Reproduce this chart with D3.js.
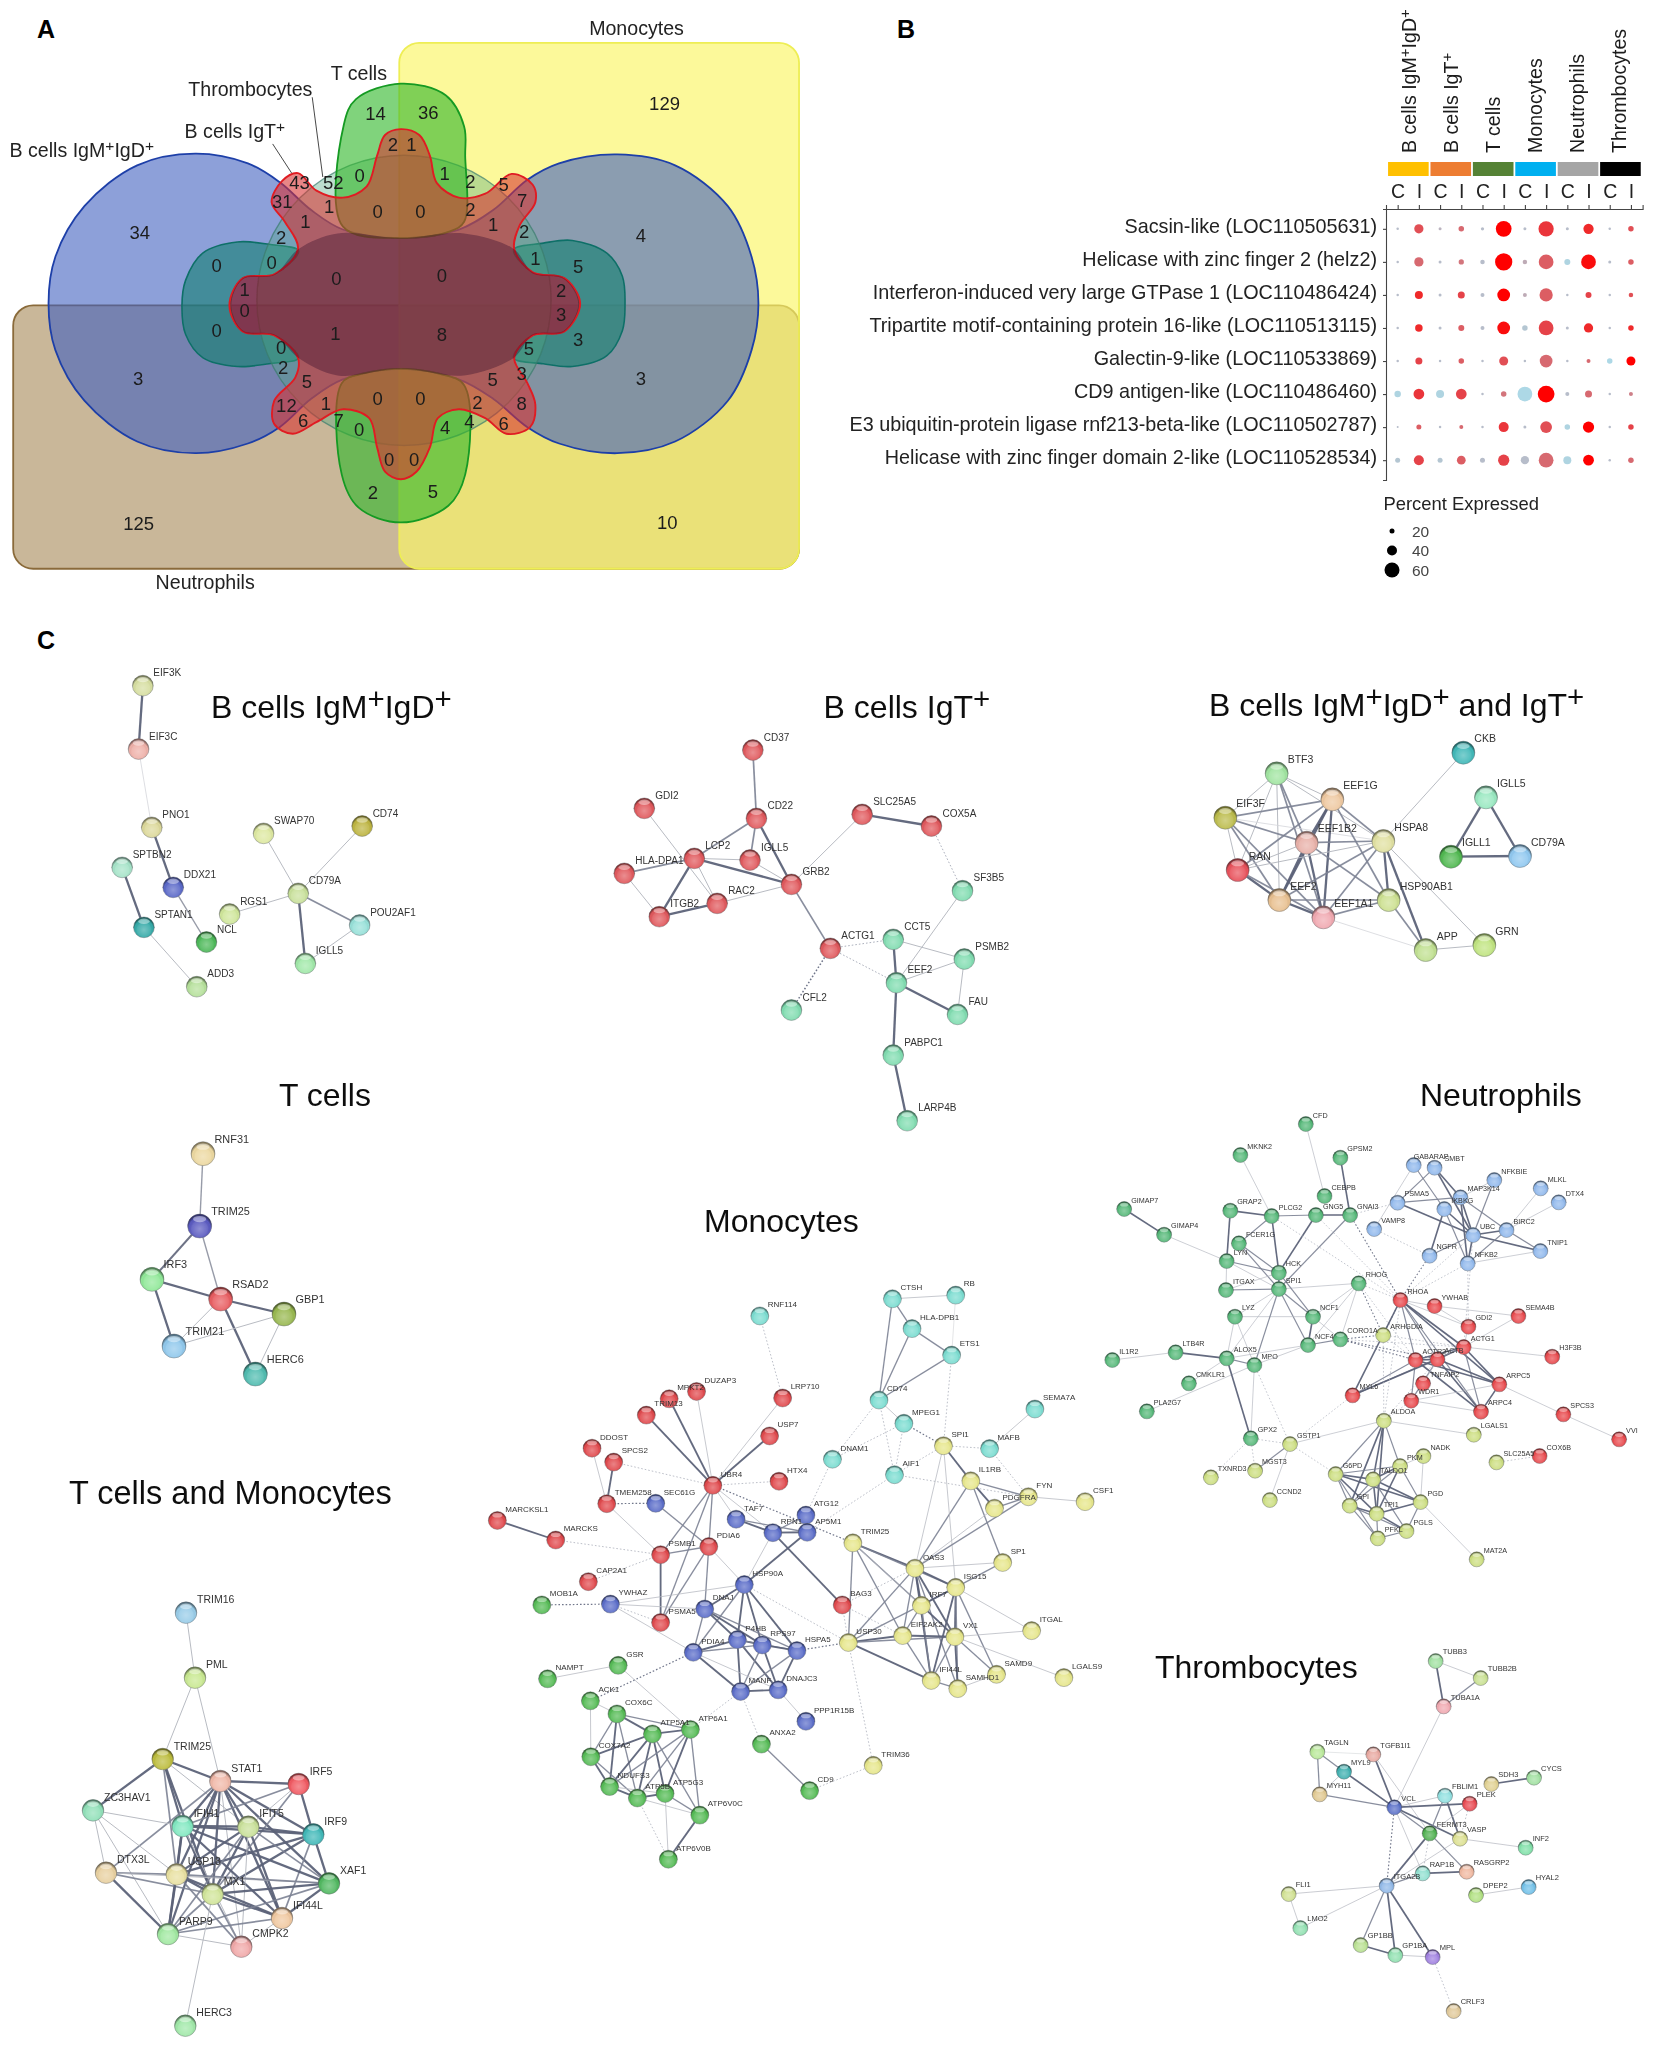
<!DOCTYPE html>
<html><head><meta charset="utf-8">
<script src="https://cdn.jsdelivr.net/npm/d3@7"></script>
<style>html,body{margin:0;padding:0;background:#fff}svg{display:block}text{font-family:"Liberation Sans",Arial,sans-serif}</style>
</head><body><svg id="fig" width="1654" height="2050"></svg>
<script>
/* ---------- PANEL A data (digitised in a 1568-unit grid) ---------- */
const vennCounts=[34,3,125,129,4,3,10,14,36,2,1,43,52,0,1,2,5,31,1,0,0,2,7,1,1,2,2,0,0,1,5,0,0,1,2,0,3,1,8,0,3,0,5,2,3,5,5,0,0,2,1,12,8,7,6,0,4,4,6,0,0,2,5];
const vennCountX=[265,262,263,1260,1215,1215,1265,712,812,745,780,568,632,682,843,892,955,535,624,716,797,892,990,579,935,533,994,411,515,1015,1096,638,838,464,1064,464,1064,636,838,411,1096,533,1003,537,989,582,934,716,797,905,618,543,989,642,575,681,844,890,955,738,785,707,821];
const vennCountY=[598,973,1345,266,605,972,1343,292,288,372,372,468,470,450,447,467,473,517,530,543,543,538,516,570,578,610,595,683,675,665,685,716,708,745,748,798,808,858,860,850,872,892,897,945,960,980,975,1025,1025,1035,1037,1043,1038,1082,1082,1105,1100,1083,1088,1180,1182,1265,1263];
const blueOutline=[[530,468],[470,420],[370,395],[260,425],[160,530],[105,660],[92,780],[105,900],[160,1030],[260,1135],[370,1165],[470,1140],[530,1098],[590,1025],[650,975],[760,948],[870,975],[935,1025],[1000,1098],[1060,1140],[1170,1165],[1280,1135],[1380,1030],[1425,900],[1438,780],[1425,660],[1380,530],[1280,425],[1170,397],[1060,420],[1000,462],[935,540],[870,590],[760,612],[650,590],[590,540]];
const tealLeftOutline=[[566,645],[510,628],[450,622],[385,650],[352,720],[345,785],[352,860],[385,920],[450,942],[510,935],[566,920],[520,862],[460,852],[437,785],[460,715],[520,705]];
const tealRightOutline=[[974,642],[1030,625],[1085,618],[1150,650],[1180,710],[1185,785],[1180,850],[1150,915],[1085,942],[1030,935],[974,920],[1010,862],[1070,852],[1098,780],[1070,715],[1010,700]];
const greenTopOutline=[[650,582],[652,320],[675,255],[760,215],[845,245],[880,325],[882,400],[880,570],[850,596],[760,612]];
const greenBottomOutline=[[880,990],[882,1220],[850,1300],[760,1343],[680,1305],[648,1220],[648,985],[690,960],[760,948],[830,960]];
const redOutline=[[760,332],[795,347],[815,400],[828,470],[870,508],[920,498],[970,447],[1010,475],[1015,520],[985,580],[975,640],[1010,700],[1070,715],[1100,780],[1070,852],[1010,862],[975,920],[1000,985],[1015,1040],[1005,1098],[960,1115],[920,1075],[870,1052],[830,1075],[815,1150],[790,1212],[760,1232],[730,1212],[715,1150],[700,1075],[650,1052],[600,1085],[555,1115],[520,1090],[520,1030],[560,970],[565,920],[520,862],[460,852],[435,785],[460,715],[520,705],[565,640],[540,570],[515,520],[535,465],[565,445],[600,490],[650,508],[695,480],[715,400],[730,347]];
const coreOutline=[[566,640],[640,600],[760,612],[880,600],[974,640],[1010,700],[1070,715],[1098,780],[1070,852],[1010,862],[974,920],[880,965],[760,948],[640,965],[566,920],[520,862],[460,852],[437,785],[460,715],[520,705]];

/* ---------- PANEL B data ---------- */
const cellTypes=["B cells IgM+IgD+","B cells IgT+","T cells","Monocytes","Neutrophils","Thrombocytes"];
const conditions=["C","I"];
const genes=["Sacsin-like (LOC110505631)","Helicase with zinc finger 2 (helz2)","Interferon-induced very large GTPase 1 (LOC110486424)","Tripartite motif-containing protein 16-like (LOC110513115)","Galectin-9-like (LOC110533869)","CD9 antigen-like (LOC110486460)","E3 ubiquitin-protein ligase rnf213-beta-like (LOC110502787)","Helicase with zinc finger domain 2-like (LOC110528534)"];
const percentExpressed=[
[10,37,12,22,13,63,12,61,12,41,10,22],
[10,37,12,21,18,69,18,59,24,59,12,22],
[10,32,12,28,16,51,16,53,10,24,10,18],
[10,30,12,24,16,51,22,59,12,37,10,22],
[10,28,10,22,10,36,10,51,10,16,22,36],
[26,43,32,43,10,22,59,67,16,28,10,16],
[8,20,10,16,10,40,12,47,22,45,10,22],
[20,40,20,35,20,45,33,59,32,43,10,22]];
const avgExpression=[
[.2,.7,.25,.6,.2,1,.2,.8,.2,.85,.2,.7],
[.2,.6,.2,.55,.2,1,.3,.65,.05,.95,.2,.65],
[.2,.85,.2,.75,.2,1,.3,.65,.2,.75,.2,.7],
[.2,.85,.2,.65,.2,.95,.15,.75,.2,.85,.2,.85],
[.2,.75,.2,.65,.2,.7,.2,.6,.2,.6,0,1],
[.05,.8,.05,.75,.2,.55,0,1,.2,.6,.2,.5],
[.2,.65,.2,.6,.2,.8,.2,.7,.05,1,.2,.75],
[.15,.75,.15,.65,.2,.75,.2,.6,.05,1,.2,.6]];
const legendPercents=[20,40,60];

/* ---------- PANEL C networks: names, layout coordinates, cluster/colour, interaction confidence ---------- */
const igmNames=["EIF3K","EIF3C","PNO1","SPTBN2","DDX21","SPTAN1","NCL","ADD3","RGS1","SWAP70","CD74","CD79A","POU2AF1","IGLL5"];
const igmX=[400,388,425,342,485,403,578,551,643,738,1014,835,1007,855];
const igmY=[197,387,622,742,802,922,966,1100,882,640,618,820,915,1030];
const igmCol=["#d6dea0","#eeb0a8","#dcd89a","#a5e3c8","#5a68c8","#35aaa8","#4cb858","#b5e09a","#cfe69a","#dde8a0","#bdb440","#c8e09a","#96e0d8","#a0e8a8"];
const igmEdges="EIF3K EIF3C 3,EIF3C PNO1 0.5,PNO1 DDX21 3,DDX21 NCL 1.5,SPTBN2 SPTAN1 3,SPTAN1 ADD3 1,RGS1 CD79A 1,SWAP70 CD79A 1,CD74 CD79A 1,CD79A POU2AF1 2,CD79A IGLL5 3,POU2AF1 IGLL5 1";

const igtNames=["CD37","CD22","GDI2","LCP2","IGLL5","HLA-DPA1","GRB2","RAC2","ITGB2","SLC25A5","COX5A","SF3B5","ACTG1","CCT5","PSMB2","EEF2","CFL2","FAU","PABPC1","LARP4B"];
const igtX=[540,550,236,376,532,180,648,440,278,846,1040,1127,757,933,1132,942,648,1113,933,972];
const igtY=[210,415,385,535,540,580,613,670,710,403,438,632,805,778,837,908,990,1003,1125,1322];
const igtCol=["r","r","r","r","r","r","r","r","r","r","r","g","r","g","g","g","g","g","g","g"].map(c=>c==="r"?"#e0585c":"#80dcb0");
const igtEdges="CD37 CD22 2,CD22 LCP2 2,CD22 IGLL5 2,CD22 GRB2 3,LCP2 IGLL5 1,LCP2 GRB2 3,IGLL5 GRB2 1,GDI2 RAC2 1,LCP2 HLA-DPA1 2,HLA-DPA1 ITGB2 1,LCP2 ITGB2 3,LCP2 RAC2 1,ITGB2 RAC2 3,RAC2 GRB2 1,GRB2 SLC25A5 1,SLC25A5 COX5A 3,COX5A SF3B5 -1,GRB2 ACTG1 2,ACTG1 CCT5 -1,ACTG1 EEF2 -1,ACTG1 CFL2 -2,SF3B5 EEF2 1,CCT5 PSMB2 1,CCT5 EEF2 3,EEF2 PSMB2 1,PSMB2 FAU 1,EEF2 FAU 3,EEF2 PABPC1 3,PABPC1 LARP4B 3";

const bothNames=["BTF3","EEF1G","EIF3F","EEF1B2","HSPA8","RAN","EEF2","HSP90AB1","EEF1A1","APP","GRN","CKB","IGLL5","IGLL1","CD79A"];
const bothX=[380,547,226,470,700,263,388,716,520,827,1003,940,1008,903,1110];
const bothY=[280,358,413,488,483,570,660,660,712,810,795,218,352,530,528];
const bothCol=["#a0e4a0","#eec8a0","#bcbc4c","#e8b0a8","#e0e0a0","#e8505a","#e8c090","#cce090","#f0a8b0","#c0e090","#c0e480","#40b8b8","#98e8c0","#50b850","#90c8f0"];
const bothEdges="BTF3 EEF1G 1,BTF3 EIF3F 1,BTF3 EEF1B2 2,BTF3 RAN 1,BTF3 EEF2 1,BTF3 EEF1A1 2,BTF3 HSPA8 1,EIF3F EEF1G 2,EIF3F EEF1B2 2,EIF3F RAN 1,EIF3F EEF2 2,EIF3F EEF1A1 2,EIF3F HSPA8 0.5,EEF1G EEF1B2 3,EEF1G RAN 2,EEF1G EEF2 3,EEF1G EEF1A1 3,EEF1G HSPA8 2,EEF1G HSP90AB1 2,EEF1B2 RAN 1,EEF1B2 EEF2 3,EEF1B2 EEF1A1 3,EEF1B2 HSPA8 2,EEF1B2 HSP90AB1 2,RAN EEF2 3,RAN EEF1A1 2,RAN HSPA8 1,EEF2 EEF1A1 3,EEF2 HSPA8 2,EEF2 HSP90AB1 2,EEF1A1 HSPA8 2,EEF1A1 HSP90AB1 2,HSPA8 HSP90AB1 3,HSPA8 APP 3,HSPA8 GRN 1,HSPA8 CKB 1,HSP90AB1 APP 2,EEF1A1 APP 0.5,APP GRN 1,IGLL5 IGLL1 3,IGLL5 CD79A 3,IGLL1 CD79A 3";

const tNames=["RNF31","TRIM25","IRF3","RSAD2","GBP1","TRIM21","HERC6"];
const tX=[309,299,156,362,552,222,466];
const tY=[191,408,568,627,672,768,852];
const tCol=["#ecd8a0","#5a5ac0","#90e898","#e85c60","#98b850","#90c8ec","#50bcb0"];
const tEdges="RNF31 TRIM25 1.5,TRIM25 IRF3 2.5,TRIM25 RSAD2 1.5,IRF3 RSAD2 3,IRF3 TRIM21 3,RSAD2 GBP1 3,RSAD2 TRIM21 1,RSAD2 HERC6 3,GBP1 TRIM21 1,GBP1 HERC6 1";

const tmNames=["TRIM16","PML","TRIM25","STAT1","IRF5","ZC3HAV1","IFIH1","IFIT5","IRF9","DTX3L","USP18","MX1","XAF1","IFI44L","PARP9","CMPK2","HERC3"];
const tmX=[438,465,368,541,776,159,428,625,820,198,410,518,867,726,384,604,436];
const tmY=[128,323,567,633,642,721,768,770,793,908,913,972,940,1044,1092,1130,1367];
const tmCol=["#98cce8","#c8e890","#bcbc3c","#f0b8a8","#f05860","#90e0b8","#80e8c0","#c8e098","#40b8b8","#e8d0a0","#e8e0a0","#d0e498","#50b860","#f0c8a0","#a0e8a0","#f0a8a8","#a0e8a8"];
const tmEdges="TRIM16 PML 1,PML TRIM25 1,PML STAT1 1,TRIM25 STAT1 3,TRIM25 ZC3HAV1 3,TRIM25 IFIH1 3,TRIM25 USP18 2,TRIM25 MX1 3,TRIM25 IFIT5 1,STAT1 IRF5 3,STAT1 IFIH1 3,STAT1 IFIT5 3,STAT1 IRF9 3,STAT1 USP18 3,STAT1 MX1 3,STAT1 XAF1 3,STAT1 IFI44L 3,STAT1 DTX3L 2,STAT1 PARP9 3,STAT1 CMPK2 1,IRF5 IFIH1 2,IRF5 IRF9 3,IRF5 MX1 2,IRF5 IFIT5 1,IRF9 XAF1 3,IRF9 IFIH1 3,IRF9 IFIT5 3,IRF9 MX1 3,IRF9 USP18 3,IRF9 IFI44L 2,ZC3HAV1 IFIH1 1,ZC3HAV1 DTX3L 1,ZC3HAV1 USP18 1,ZC3HAV1 PARP9 1,IFIH1 IFIT5 3,IFIH1 USP18 3,IFIH1 MX1 3,IFIH1 XAF1 3,IFIH1 PARP9 3,IFIH1 IFI44L 3,IFIH1 CMPK2 1,IFIT5 USP18 3,IFIT5 MX1 3,IFIT5 XAF1 2,IFIT5 IFI44L 3,IFIT5 PARP9 2,IFIT5 CMPK2 1,DTX3L USP18 2,DTX3L MX1 2,DTX3L PARP9 3,DTX3L XAF1 1,USP18 MX1 3,USP18 XAF1 2,USP18 IFI44L 3,USP18 PARP9 3,USP18 CMPK2 2,MX1 XAF1 3,MX1 IFI44L 3,MX1 PARP9 2,MX1 CMPK2 2,XAF1 IFI44L 3,XAF1 PARP9 2,IFI44L PARP9 2,IFI44L CMPK2 1,PARP9 CMPK2 1,MX1 HERC3 1";

const monoNames=["RNF114","CTSH","RB","HLA-DPB1","ETS1","CD74","MPEG1","SEMA7A","MAFB","DNAM1","AIF1",
"DUZAP3","MPKT2","TRIM13","LRP710","USP7","DDOST","SPCS2","TMEM258","HTX4","UBR4","MARCKSL1","MARCKS","PSMB1","PDIA6","CAP2A1","PSMA5","BAG3",
"SEC61G","TAF7","RPN1","ATG12","AP5M1","HSP90A","YWHAZ","DNAJ","P4HB","RPS97","PDIA4","HSPA5","MANF","DNAJC3","PPP1R15B",
"MOB1A","NAMPT","GSR","ACK1","COX6C","ATP5A1","ATP6A1","COX7A2","NDUFS3","ATP5B","ATP5G3","ATP6V0C","ATP6V0B","ANXA2","CD9",
"TRIM36","SPI1","IL1RB","FYN","PDGFRA","CSF1","TRIM25","SP1","OAS3","ISG15","IRF7","VX1","EIF2AK2","USP30","ITGAL","LGALS9","SAMD9","IFI44L","SAMHD1"];
const monoX=[710,1035,1190,1083,1180,1002,1063,1384,1273,888,1040,
555,488,432,766,734,299,352,335,757,595,67,210,467,585,290,467,912,
455,652,742,823,826,672,344,575,655,716,547,801,663,755,823,
176,190,363,295,360,447,540,296,342,410,478,563,486,714,832,
988,1160,1227,1368,1285,1507,938,1305,1090,1190,1106,1188,1060,927,1376,1455,1290,1130,1195];
const monoY=[137,95,86,168,233,343,400,365,462,488,526,
322,340,380,338,431,461,495,597,542,552,638,686,722,702,788,888,845,
596,635,668,625,667,795,843,855,930,943,961,957,1057,1053,1130,
845,1026,993,1080,1112,1161,1150,1217,1290,1318,1307,1360,1468,1186,1300,
1238,455,541,580,608,592,693,741,755,802,846,923,920,937,908,1023,1015,1030,1050];
const monoClusters=[0,0,0,0,0,0,0,0,0,0,0, 1,1,1,1,1,1,1,1,1,1,1,1,1,1,1,1,1, 2,2,2,2,2,2,2,2,2,2,2,2,2,2,2, 3,3,3,3,3,3,3,3,3,3,3,3,3,3,3, 4,4,4,4,4,4,4,4,4,4,4,4,4,4,4,4,4,4,4];
const monoPalette=["#7adcd0","#e0484c","#5a6cc8","#55bb55","#e6e68a"];
const monoEdges="CTSH RB 1,CTSH HLA-DPB1 2,CTSH CD74 2,HLA-DPB1 ETS1 2,HLA-DPB1 CD74 2,ETS1 CD74 2,RB ETS1 0.5,CD74 MPEG1 1,CD74 AIF1 -1,CD74 DNAM1 -1,MPEG1 AIF1 -1,MPEG1 SPI1 -2,MPEG1 DNAM1 -1,ETS1 SPI1 -1,SEMA7A MAFB 1,MAFB FYN -1,MAFB SPI1 -1,AIF1 SPI1 -1,AIF1 FYN -1,RNF114 LRP710 -1,DNAM1 ATG12 -1,AIF1 AP5M1 -1,SPI1 IL1RB 3,IL1RB FYN 2,IL1RB PDGFRA 3,IL1RB SP1 2,IL1RB OAS3 2,SPI1 OAS3 1,SPI1 ISG15 1,FYN PDGFRA 2,FYN OAS3 2,PDGFRA OAS3 1,FYN CSF1 1,SP1 ISG15 2,SP1 OAS3 1,TRIM25 OAS3 3,TRIM25 USP30 2,TRIM25 IRF7 2,TRIM25 EIF2AK2 2,TRIM25 ISG15 2,TRIM25 VX1 1,USP30 OAS3 2,USP30 EIF2AK2 3,USP30 VX1 2,USP30 ISG15 2,USP30 IFI44L 3,OAS3 ISG15 3,OAS3 IRF7 3,OAS3 VX1 3,OAS3 EIF2AK2 2,OAS3 IFI44L 3,OAS3 SAMHD1 2,ISG15 IRF7 3,ISG15 VX1 3,ISG15 IFI44L 3,ISG15 ITGAL 1,ISG15 SAMD9 2,ISG15 SAMHD1 2,IRF7 VX1 3,IRF7 EIF2AK2 2,IRF7 IFI44L 2,EIF2AK2 VX1 3,EIF2AK2 IFI44L 2,VX1 IFI44L 2,VX1 SAMHD1 3,VX1 SAMD9 2,VX1 ITGAL 1,VX1 LGALS9 1,IFI44L SAMHD1 2,SAMHD1 SAMD9 1,BAG3 OAS3 -1,BAG3 USP30 -1,BAG3 EIF2AK2 -1,UBR4 TRIM13 3,UBR4 MPKT2 3,UBR4 DUZAP3 1,UBR4 USP7 3,UBR4 LRP710 1,UBR4 PSMB1 2,UBR4 PDIA6 2,UBR4 PSMA5 2,UBR4 SPCS2 -1,UBR4 HTX4 -1,UBR4 TRIM25 -2,UBR4 TAF7 1,UBR4 RPN1 1,TMEM258 SPCS2 3,DDOST TMEM258 1,TMEM258 SEC61G -2,TMEM258 PSMB1 1,SEC61G PDIA6 2,RPN1 BAG3 3,MARCKSL1 MARCKS 3,MARCKS PSMB1 -1,CAP2A1 PSMB1 -1,PSMB1 PDIA6 2,PSMB1 PSMA5 3,PDIA6 PSMA5 2,PDIA6 DNAJ 2,PDIA6 HSP90A 1,TAF7 RPN1 3,TAF7 AP5M1 2,RPN1 ATG12 2,RPN1 AP5M1 3,ATG12 AP5M1 3,AP5M1 HSP90A 3,RPN1 HSP90A 1,YWHAZ MOB1A -2,YWHAZ HSP90A 1,YWHAZ PSMA5 -1,YWHAZ DNAJ 1,YWHAZ PDIA4 1,HSP90A DNAJ 3,HSP90A P4HB 3,HSP90A RPS97 3,HSP90A HSPA5 3,HSP90A PDIA4 2,HSP90A USP30 -1,DNAJ P4HB 3,DNAJ RPS97 3,DNAJ PDIA4 2,DNAJ HSPA5 2,P4HB RPS97 3,P4HB HSPA5 2,P4HB PDIA4 3,P4HB MANF 3,P4HB DNAJC3 3,RPS97 HSPA5 3,RPS97 PDIA4 2,RPS97 MANF 2,RPS97 DNAJC3 3,HSPA5 DNAJC3 3,HSPA5 MANF 2,PDIA4 MANF 3,PDIA4 DNAJC3 1,MANF DNAJC3 3,DNAJC3 PPP1R15B 1,PDIA4 ACK1 -2,MANF ANXA2 -1,MANF ATP6A1 -1,HSPA5 USP30 -2,ANXA2 CD9 2,CD9 TRIM36 -1,USP30 TRIM36 -1,NAMPT GSR 1,GSR ATP6A1 1,ACK1 COX6C 1,ACK1 COX7A2 1,COX6C ATP5A1 3,COX6C COX7A2 2,COX6C NDUFS3 3,COX6C ATP6A1 2,COX6C ATP5B 2,ATP5A1 ATP6A1 3,ATP5A1 COX7A2 3,ATP5A1 NDUFS3 3,ATP5A1 ATP5B 3,ATP5A1 ATP5G3 3,ATP5A1 ATP6V0C 2,ATP6A1 NDUFS3 2,ATP6A1 ATP5B 2,ATP6A1 ATP5G3 3,ATP6A1 ATP6V0C 2,COX7A2 NDUFS3 3,COX7A2 ATP5B 2,NDUFS3 ATP5B 3,NDUFS3 ATP5G3 1,ATP5B ATP5G3 3,ATP5B ATP6V0C 1,ATP5G3 ATP6V0C 2,ATP6V0C ATP6V0B 3,ATP5G3 ATP6V0B 1,ATP5B ATP6V0B -1";

const neuNames=["CFD","MKNK2","GPSM2","CEBPB","GIMAP7","GRAP2","PLCG2","GNG5","GNAI3","GIMAP4","FCER1G","LYN","HCK","SPI1","RHOG","ITGAX","LYZ","NCF1","NCF4","CORO1A","LTB4R","IL1R2","ALOX5","MPO","CMKLR1","PLA2G7","GPX2",
"GABARAP","SMBT","NFKBIE","MAP3K14","MLKL","DTX4","PSMA5","IKBKG","VAMP8","UBC","BIRC2","TNIP1","NGFR","NFKB2",
"RHOA","YWHAB","SEMA4B","GDI2","ACTG1","H3F3B","ACTR2","ACTB","TNFAIP2","ARPC5","MYL6","WDR1","ARPC4","SPCS3","VVI","COX6B",
"ARHGDIA","ALDOA","LGALS1","GSTP1","NADK","SLC25A5","PKM","MGST3","TXNRD3","G6PD","TALDO1","CCND2","PGD","GPI","TPI1","PGLS","PFKL","MAT2A"];
const neuX=[600,418,696,652,95,390,505,628,723,206,414,380,525,525,747,378,403,620,606,696,238,62,380,457,275,158,447,
900,958,1124,1030,1253,1303,855,985,790,1065,1158,1252,944,1050,
863,958,1191,1052,1039,1285,905,966,926,1138,730,893,1087,1316,1471,1250,
815,817,1067,556,927,1130,862,459,336,683,787,500,919,722,797,880,800,1075];
const neuY=[72,165,173,288,327,332,348,345,345,404,430,483,518,567,550,570,650,650,735,718,757,780,775,795,850,934,1015,
195,203,240,292,265,307,308,327,387,405,390,453,467,490,
600,618,648,680,741,770,780,778,850,853,886,902,935,943,1018,1068,
705,962,1004,1032,1068,1087,1098,1112,1132,1122,1138,1200,1206,1217,1241,1293,1315,1378];
const neuClusters=[0,0,0,0,0,0,0,0,0,0,0,0,0,0,0,0,0,0,0,0,0,0,0,0,0,0,0, 1,1,1,1,1,1,1,1,1,1,1,1,1,1, 2,2,2,2,2,2,2,2,2,2,2,2,2,2,2,2, 3,3,3,3,3,3,3,3,3,3,3,3,3,3,3,3,3,3];
const neuPalette=["#55b878","#90b8ec","#e8484c","#ccde80"];
const neuEdges="CFD CEBPB 1,MKNK2 PLCG2 1,GPSM2 GNAI3 3,GNG5 GNAI3 3,PLCG2 GNG5 2,GRAP2 PLCG2 3,GRAP2 LYN 3,PLCG2 FCER1G 2,PLCG2 HCK 3,GNG5 HCK 3,GNAI3 SPI1 2,GNAI3 RHOA -2,GNAI3 PSMA5 -1,GIMAP7 GIMAP4 3,GIMAP4 LYN 1,LYN HCK 2,LYN SPI1 1,FCER1G HCK 2,FCER1G SPI1 2,LYN ITGAX 1,ITGAX SPI1 2,ITGAX HCK 1,HCK SPI1 3,SPI1 NCF1 2,SPI1 NCF4 2,SPI1 RHOG 1,HCK NCF1 2,LYZ SPI1 1,LYZ MPO 1,LYZ NCF1 1,LYZ ALOX5 1,NCF1 NCF4 3,NCF1 CORO1A 1,NCF4 CORO1A 2,RHOG NCF1 1,RHOG NCF4 1,RHOG CORO1A 1,RHOG RHOA -1,RHOG ARHGDIA -2,RHOG ACTR2 -1,PLCG2 RHOA -1,GNG5 RHOA -1,SPI1 MPO 2,SPI1 ALOX5 1,NCF4 MPO 1,NCF4 ALOX5 1,IL1R2 LTB4R 1,LTB4R ALOX5 3,CMKLR1 ALOX5 1,PLA2G7 MPO 1,ALOX5 MPO 2,ALOX5 GPX2 3,MPO GPX2 1,MPO GSTP1 -1,GPX2 GSTP1 -1,GPX2 MGST3 -1,GPX2 TXNRD3 -1,GSTP1 MGST3 2,GSTP1 CCND2 1,GSTP1 ALDOA 1,GSTP1 G6PD -1,GABARAP VAMP8 1,GABARAP IKBKG 2,SMBT PSMA5 2,SMBT MAP3K14 3,SMBT UBC 3,PSMA5 UBC 3,PSMA5 MAP3K14 2,NFKBIE UBC 2,NFKBIE MAP3K14 1,MAP3K14 UBC 3,MAP3K14 NFKB2 3,MAP3K14 BIRC2 2,IKBKG UBC 3,IKBKG NGFR 3,IKBKG NFKB2 2,UBC BIRC2 3,UBC TNIP1 3,UBC NFKB2 3,UBC NGFR 2,BIRC2 TNIP1 2,BIRC2 NFKB2 2,BIRC2 MLKL 1,BIRC2 DTX4 1,NFKB2 TNIP1 1,NGFR RHOA -2,VAMP8 NGFR -1,UBC RHOA -1,NFKB2 RHOA -1,NFKB2 GDI2 -1,UBC ACTG1 -1,RHOA YWHAB 1,RHOA GDI2 1,RHOA ACTG1 3,RHOA ACTR2 2,RHOA ACTB 2,RHOA ARPC5 3,RHOA ARPC4 2,RHOA ARHGDIA -2,RHOA MYL6 3,YWHAB SEMA4B 1,YWHAB GDI2 1,SEMA4B ACTG1 1,GDI2 ACTG1 1,ACTG1 ACTR2 3,ACTG1 ACTB 3,ACTG1 H3F3B 1,ACTG1 ARPC5 3,ACTG1 ARPC4 2,ACTG1 MYL6 2,ACTR2 ACTB 3,ACTR2 ARPC5 3,ACTR2 ARPC4 3,ACTR2 WDR1 2,ACTR2 MYL6 2,ACTB ARPC5 3,ACTB ARPC4 3,ACTB WDR1 2,ACTB MYL6 3,ARPC5 ARPC4 3,ARPC5 WDR1 1,WDR1 ARPC4 1,TNFAIP2 ACTB 1,ARPC5 SPCS3 1,SPCS3 VVI 1,SLC25A5 COX6B -1,MYL6 GSTP1 -1,CORO1A ARHGDIA -2,CORO1A ACTR2 -2,CORO1A ACTB -2,CORO1A ACTG1 -1,ARHGDIA ACTG1 -1,ARHGDIA ALDOA -1,ARHGDIA ACTR2 -1,RHOA ALDOA -1,ACTB ALDOA -1,WDR1 ALDOA -1,ALDOA LGALS1 1,ALDOA G6PD 2,ALDOA TALDO1 3,ALDOA PKM 2,ALDOA GPI 3,ALDOA TPI1 3,G6PD TALDO1 3,G6PD PGD 3,G6PD GPI 2,G6PD TPI1 3,G6PD PKM 2,G6PD PFKL 2,TALDO1 PKM 3,TALDO1 PGD 3,TALDO1 TPI1 3,TALDO1 GPI 2,TALDO1 PGLS 2,PKM TPI1 3,PKM GPI 2,PKM PGD 2,PKM NADK 1,PGD TPI1 3,PGD PGLS 2,PGD NADK 1,PGD MAT2A 1,GPI TPI1 3,GPI PFKL 2,GPI PGLS 2,TPI1 PGLS 3,TPI1 PFKL 2,PFKL PGLS 2";

const thrNames=["TUBB3","TUBB2B","TUBA1A","TAGLN","TGFB1I1","MYL9","MYH11","VCL","FBLIM1","PLEK","SDH3","CYCS","FERMT3","VASP","INF2","RAP1B","RASGRP2","ITGA2B","DPEP2","HYAL2","FLI1","LMO2","GP1BB","GP1BA","MPL","CRLF3"];
const thrX=[527,662,551,172,340,252,179,403,555,629,694,822,509,600,797,488,620,380,648,806,86,121,302,406,518,581];
const thrY=[93,144,229,365,373,425,493,532,497,521,462,443,610,626,653,730,725,767,795,771,792,894,945,975,981,1143];
const thrCol=["#a0e0a0","#c8e090","#f0a8b0","#b8e898","#e8a8a0","#40b0b0","#e0c890","#5a70c8","#90e0e0","#e84850","#e0d090","#a0e0a0","#50b050","#dce090","#80e0a8","#90e0d0","#f0b8a0","#90b8e8","#b0e080","#70c0e8","#d0e090","#90e0b0","#b8e090","#90e0b0","#a080e0","#e0c898"];
const thrEdges="TUBB3 TUBB2B 1,TUBB3 TUBA1A 3,TUBB2B TUBA1A 2,TUBA1A VCL 1,TAGLN MYL9 2,TAGLN MYH11 2,TAGLN TGFB1I1 0.5,MYL9 MYH11 1,MYL9 VCL 3,MYH11 VCL 2,TGFB1I1 VCL 3,TGFB1I1 FERMT3 1,VCL FBLIM1 1,VCL PLEK 3,VCL FERMT3 2,VCL VASP 3,VCL ITGA2B -2,VCL RAP1B 1,FBLIM1 FERMT3 2,FBLIM1 VASP 3,PLEK VASP -1,PLEK FERMT3 1,SDH3 CYCS 3,VASP INF2 1,VASP ITGA2B 1,FERMT3 ITGA2B 3,FERMT3 RAP1B -1,FERMT3 RASGRP2 2,RAP1B RASGRP2 3,RAP1B ITGA2B 2,ITGA2B FLI1 1,ITGA2B LMO2 1,FLI1 LMO2 1,ITGA2B GP1BB 2,ITGA2B GP1BA 3,ITGA2B MPL 3,GP1BB GP1BA 3,GP1BA MPL 1,MPL CRLF3 -1,DPEP2 HYAL2 1";

/* ---------- drawing ---------- */
const svg=d3.select("#fig");
const defs=svg.append("defs");
defs.append("filter").attr("id","soft").attr("x","-5%").attr("y","-5%").attr("width","110%").attr("height","110%")
  .append("feGaussianBlur").attr("stdDeviation",.45);
defs.append("filter").attr("id","softer").attr("x","-5%").attr("y","-5%").attr("width","110%").attr("height","110%")
  .append("feGaussianBlur").attr("stdDeviation",.7);
const shade=defs.append("radialGradient").attr("id","shade").attr("cx",.5).attr("cy",.62).attr("r",.55);
[[0,"#fff",.32],[.6,"#fff",.1],[.82,"#000",0],[1,"#000",.42]].forEach(s=>shade.append("stop").attr("offset",s[0]).attr("stop-color",s[1]).attr("stop-opacity",s[2]));

function richText(sel,str,supSize,rise){ // "+" becomes a superscript
  str.split(/(\+)/).forEach(p=>{
    if(!p)return;
    if(p==="+") sel.append("tspan").attr("baseline-shift",supSize*rise+"px").attr("font-size",supSize).text("+");
    else sel.append("tspan").text(p);
  });
}
svg.selectAll("text.letter").data([["A",46,38],["B",906,38],["C",46,649]]).join("text")
  .attr("x",d=>d[1]).attr("y",d=>d[2]).attr("text-anchor","middle").attr("font-size",25).attr("font-weight","bold").text(d=>d[0]);

/* Panel A */
const vx=d3.scaleLinear().domain([0,1568]).range([0,827]);
const vy=d3.scaleLinear().domain([0,1568]).range([0,610]);
const va=svg.append("g").attr("filter","url(#soft)");
const shape=d3.line().x(d=>vx(d[0])).y(d=>vy(d[1])).curve(d3.curveCatmullRomClosed.alpha(.5));
function vennRect(x0,x1,y0,y1,fill,op,stroke){
  va.append("rect").attr("x",vx(x0)).attr("y",vy(y0)).attr("width",vx(x1)-vx(x0)).attr("height",vy(y1)-vy(y0)).attr("rx",20).attr("ry",20)
    .attr("fill",fill).attr("fill-opacity",op).attr("stroke",stroke).attr("stroke-width",1.8);
}
vennRect(25,1515,785,1462,"#a88a58",.62,"#8a6b3a");
vennRect(757,1515,110,1462,"#fbf66a",.68,"#eeee55");
va.append("path").attr("d",shape(blueOutline)).attr("fill","#3f5fc0").attr("fill-opacity",.6).attr("stroke","#1f3fa8").attr("stroke-width",1.8);
[tealLeftOutline,tealRightOutline].forEach(o=>va.append("path").attr("d",shape(o)).attr("fill","#108070").attr("fill-opacity",.6).attr("stroke","#107068").attr("stroke-width",1.6));
va.append("ellipse").attr("cx",vx(766)).attr("cy",vy(772)).attr("rx",vx(279)).attr("ry",vy(373)-vy(0)).attr("fill","#50a880").attr("fill-opacity",.38).attr("stroke","#3a7c6c").attr("stroke-opacity",.7).attr("stroke-width",1.4);
[greenTopOutline,greenBottomOutline].forEach(o=>va.append("path").attr("d",shape(o)).attr("fill","#34b82c").attr("fill-opacity",.62).attr("stroke","#149a24").attr("stroke-width",1.8));
va.append("path").attr("d",shape(redOutline)).attr("fill","#d83030").attr("fill-opacity",.58).attr("stroke","#e01c24").attr("stroke-width",1.9);
va.append("path").attr("d",shape(coreOutline)).attr("fill","#30082a").attr("fill-opacity",.36);
va.selectAll("text.cnt").data(vennCounts).join("text").attr("x",(d,i)=>vx(vennCountX[i])).attr("y",(d,i)=>vy(vennCountY[i])+6.5)
  .attr("text-anchor","middle").attr("font-size",18.5).attr("fill","#1c1c1c").text(d=>d);
const vennLabels=[["Monocytes",1117,72],["T cells",627,187],["Thrombocytes",357,230],["B cells IgT+",350,338],["B cells IgM+IgD+",18,385],["Neutrophils",295,1497]];
vennLabels.forEach(l=>{
  const t=va.append("text").attr("x",vx(l[1])).attr("y",vy(l[2])+7).attr("font-size",19.6).attr("fill","#222");
  richText(t,l[0],15.5,.42);
});
[[592,250,612,455],[517,370,553,445]].forEach(l=>va.append("line").attr("x1",vx(l[0])).attr("y1",vy(l[1])).attr("x2",vx(l[2])).attr("y2",vy(l[3])).attr("stroke","#333").attr("stroke-width",.9));

/* Panel B */
const colKeys=cellTypes.flatMap(c=>conditions.map(k=>c+"|"+k));
const bx=d3.scalePoint().domain(colKeys).range([1386,1642.6]).padding(.55);
const by=d3.scalePoint().domain(genes).range([209,480]).padding(.6);
const rad=d3.scaleLinear().domain([0,60]).range([0,7.5]);
const exprCol=d3.scalePow().exponent(1.3).domain([0,1]).range(["#add8e6","#ff0000"]);
const pb=svg.append("g").attr("filter","url(#soft)");
const annotCols=["#ffc000","#ed7d31","#548235","#00b0f0","#a5a5a5","#000000"];
cellTypes.forEach((c,i)=>{
  const cx0=bx(c+"|C"),cx1=bx(c+"|I");
  pb.append("rect").attr("x",cx0-9.6).attr("y",162).attr("width",cx1-cx0+19.4).attr("height",14).attr("fill",annotCols[i]);
  const mid=(cx0+cx1)/2, t=pb.append("text").attr("transform",`translate(${mid+7.5-i*.45},153) rotate(-90)`).attr("font-size",19.6).attr("fill","#1a1a1a");
  richText(t,c,15,.42);
});
const axT=pb.append("g").attr("transform","translate(0,209)").call(d3.axisTop(bx).tickSizeOuter(0).tickSize(4).tickPadding(7).tickFormat(d=>d.split("|")[1]));
axT.selectAll("text").attr("font-size",19.5).attr("fill","#222").attr("font-family","Liberation Sans");
const axL=pb.append("g").attr("transform","translate(1386,0)").call(d3.axisLeft(by).tickSizeOuter(0).tickSize(3).tickPadding(6));
axL.selectAll("text").attr("font-size",19.8).attr("fill","#222").attr("font-family","Liberation Sans").attr("dy","0.17em");
[axT,axL].forEach(a=>{a.selectAll("line,path").attr("stroke","#444").attr("stroke-width",1.1);});
genes.forEach((g,r)=>colKeys.forEach((k,c)=>{
  pb.append("circle").attr("cx",bx(k)).attr("cy",by(g)).attr("r",rad(percentExpressed[r][c])).attr("fill",exprCol(avgExpression[r][c]));
}));
pb.append("text").attr("x",1383.5).attr("y",510).attr("font-size",18.4).attr("fill","#222").text("Percent Expressed");
const legY=d3.scalePoint().domain(legendPercents).range([531,570]);
legendPercents.forEach(p=>{
  pb.append("circle").attr("cx",1392).attr("cy",legY(p)).attr("r",rad(p)).attr("fill","#000");
  pb.append("text").attr("x",1412).attr("y",legY(p)+5.5).attr("font-size",15.5).attr("fill","#444").text(p);
});

/* Panel C */
const edgeStyle={3:[2.3,"#5c6278",.95],2.5:[2,"#666c80",.95],2:[1.7,"#7c8294",.9],1.5:[1.4,"#8c909e",.9],1:[1,"#b4b7bf",.95],.5:[.8,"#d4d6da",1]};
function network(o){
  const sx=d3.scaleLinear().domain([0,o.zw]).range([o.ox,o.ox+o.w]);
  const sy=d3.scaleLinear().domain([0,o.zh]).range([o.oy,o.oy+o.h]);
  const g=svg.append("g").attr("filter",`url(#${o.blur||"soft"})`);
  const id=new Map(o.names.map((n,i)=>[n,i]));
  const es=o.edges.split(",").map(s=>s.split(" "));
  g.selectAll("line").data(es).join("line")
    .attr("x1",e=>sx(o.x[id.get(e[0])])).attr("y1",e=>sy(o.y[id.get(e[0])]))
    .attr("x2",e=>sx(o.x[id.get(e[1])])).attr("y2",e=>sy(o.y[id.get(e[1])]))
    .each(function(e){
      const w=+e[2], k=o.ew||1, l=d3.select(this);
      if(w<0){ l.attr("stroke",w<-1?"#70768a":"#a8acb8").attr("stroke-width",(w<-1?1.5:.95)*k).attr("stroke-dasharray","1.6 2"); }
      else { const s=edgeStyle[w]; l.attr("stroke",s[1]).attr("stroke-opacity",s[2]).attr("stroke-width",s[0]*k); }
    });
  const nd=g.selectAll("g.n").data(o.names).join("g").attr("transform",(d,i)=>`translate(${sx(o.x[i])},${sy(o.y[i])})`);
  nd.append("circle").attr("r",o.r).attr("fill",(d,i)=>o.col[i]).attr("stroke","#70757a").attr("stroke-opacity",.5).attr("stroke-width",.9);
  nd.append("circle").attr("r",o.r).attr("fill","url(#shade)");
  nd.append("ellipse").attr("cy",-o.r*.58).attr("rx",o.r*.55).attr("ry",o.r*.26).attr("fill","#fff").attr("fill-opacity",.42);
  const shift=o.shift||{};
  g.selectAll("text").data(o.names).join("text").attr("x",(d,i)=>sx(o.x[i])+o.lx+(shift[d]||0)).attr("y",(d,i)=>sy(o.y[i])+o.ly+o.fs*.36)
    .attr("font-size",o.fs).attr("fill","#333").text(d=>d);
}
network({names:igmNames,x:igmX,y:igmY,col:igmCol,edges:igmEdges,zw:1568,zh:1440,ox:0,oy:620,w:560,h:480,r:10.4,lx:10.5,ly:-13,fs:10});
network({names:igtNames,x:igtX,y:igtY,col:igtCol,edges:igtEdges,zw:1568,zh:1440,ox:560,oy:680,w:560,h:480,r:10.4,lx:11,ly:-13,fs:10});
network({names:bothNames,x:bothX,y:bothY,col:bothCol,edges:bothEdges,zw:1512,zh:900,ox:1150,oy:680,w:504,h:300,r:11.5,lx:11,ly:-14,fs:10.5});
network({names:tNames,x:tX,y:tY,col:tCol,edges:tEdges,zw:900,zh:960,ox:100,oy:1090,w:300,h:320,r:12,lx:11.5,ly:-15,fs:10.9});
network({names:tmNames,x:tmX,y:tmY,col:tmCol,edges:tmEdges,zw:1200,zh:1440,ox:40,oy:1570,w:400,h:480,r:10.8,lx:11,ly:-13,fs:10.5});
network({names:monoNames,x:monoX,y:monoY,col:monoClusters.map(c=>monoPalette[c]),edges:monoEdges,zw:1568,zh:1568,ox:470,oy:1260,w:640,h:640,r:9,lx:8,ly:-11.5,fs:8,ew:.8,blur:"softer"});
network({names:neuNames,x:neuX,y:neuY,col:neuClusters.map(c=>neuPalette[c]),edges:neuEdges,zw:1568,zh:1500,ox:1090,oy:1100,w:564,h:500,r:7.5,lx:7,ly:-9,fs:7.2,ew:.7,blur:"softer",shift:{GABARAP:-7,SMBT:3}});
network({names:thrNames,x:thrX,y:thrY,col:thrCol,edges:thrEdges,zw:1182,zh:1260,ox:1260,oy:1630,w:394,h:420,r:7.5,lx:7,ly:-9.5,fs:7.5,ew:.75,blur:"softer"});

/* titles */
const titles=[["B cells IgM+IgD+",211,718,32],["B cells IgT+",823.6,718,32],["B cells IgM+IgD+ and IgT+",1209,716,32],["T cells",279,1106,32],["Neutrophils",1420,1106,32],["Monocytes",704,1232,32],["T cells and Monocytes",69,1504,32.5],["Thrombocytes",1155,1678,32]];
titles.forEach(t=>{
  const el=svg.append("text").attr("x",t[1]).attr("y",t[2]).attr("font-size",t[3]).attr("fill","#111").attr("filter","url(#soft)");
  richText(el,t[0],t[3]*.92,.3);
});
</script></body></html>
